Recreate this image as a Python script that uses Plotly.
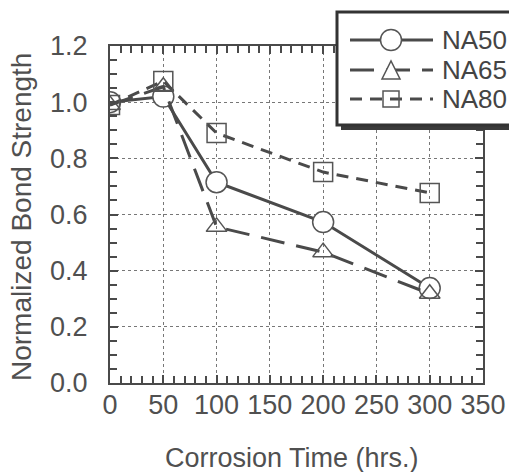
import plotly.graph_objects as go

time_hrs = [0, 50, 100, 200, 300]
na50 = [1.00, 1.02, 0.715, 0.573, 0.338]
na65 = [0.99, 1.055, 0.556, 0.466, 0.318]
na80 = [0.99, 1.075, 0.89, 0.751, 0.677]
series_names = ["NA50", "NA65", "NA80"]
x_ticks = [0, 50, 100, 150, 200, 250, 300, 350]
y_ticks = [0.0, 0.2, 0.4, 0.6, 0.8, 1.0, 1.2]
x_title = "Corrosion Time (hrs.)"
y_title = "Normalized Bond Strength"

W, H = 509, 472
L, R, T, B = 110, 26, 46, 89
PW, PH = W - L - R, H - T - B

def px_x(p):
    return (p - L) / PW

def px_y(p):
    return (H - B - p) / PH

LINE = "#4a4a4a"
MK = "#555555"
TXT = "#505050"
FONT = "Liberation Sans, Arial, sans-serif"

fig = go.Figure()
fig.add_trace(go.Scatter(
    x=time_hrs, y=na50, name=series_names[0], mode="lines+markers",
    line=dict(color=LINE, width=3),
    marker=dict(symbol="circle", size=21, color="white", line=dict(color=MK, width=1.5)),
    showlegend=False))
fig.add_trace(go.Scatter(
    x=time_hrs, y=na65, name=series_names[1], mode="lines+markers",
    line=dict(color=LINE, width=3, dash="24px,12px"),
    marker=dict(symbol="triangle-up-open", size=18, color=MK, line=dict(color=MK, width=1.5)),
    showlegend=False))
fig.add_trace(go.Scatter(
    x=time_hrs, y=na80, name=series_names[2], mode="lines+markers",
    line=dict(color=LINE, width=3, dash="12px,8px"),
    marker=dict(symbol="square-open", size=19, color=MK, line=dict(color=MK, width=1.5)),
    showlegend=False))

axis_common = dict(
    showline=True, linecolor="#4a4a4a", linewidth=2, mirror="allticks",
    ticks="inside", ticklen=8, tickwidth=1.5, tickcolor="#4a4a4a",
    showgrid=True, gridcolor="#777", gridwidth=1, griddash="dot",
    zeroline=False, tickfont=dict(family=FONT, size=27, color=TXT),
    minor=dict(ticks="inside", ticklen=7, tickwidth=1.5, tickcolor="#4a4a4a", showgrid=False),
)

fig.update_xaxes(range=[0, 350], tickvals=x_ticks, **axis_common)
fig.update_xaxes(minor_dtick=10, ticklabelstandoff=-3)
fig.update_yaxes(range=[0, 1.2], tickvals=y_ticks, tickformat=".1f", **axis_common)
fig.update_yaxes(minor_dtick=0.05, ticklabelstandoff=15)

# manual legend box
shapes = []
bx0, by0, bx1, by1 = 337, 12, 530, 125
shapes.append(dict(type="rect", xref="paper", yref="paper", layer="above",
                   x0=px_x(bx0 + 4), x1=px_x(bx1 + 4), y0=px_y(by1 + 5), y1=px_y(by0 + 4),
                   fillcolor="#3a3a3a", line=dict(width=0)))
shapes.append(dict(type="rect", xref="paper", yref="paper", layer="above",
                   x0=px_x(bx0), x1=px_x(bx1), y0=px_y(by1), y1=px_y(by0),
                   fillcolor="white", line=dict(color="#333", width=3)))
rows_y = [40, 70, 99]
dashes = ["solid", "24px,12px", "12px,8px"]
for ry, d in zip(rows_y, dashes):
    shapes.append(dict(type="line", xref="paper", yref="paper", layer="above",
                       x0=px_x(350), x1=px_x(433), y0=px_y(ry), y1=px_y(ry),
                       line=dict(color=LINE, width=3, dash=d)))
cx = 391
shapes.append(dict(type="circle", xref="paper", yref="paper", layer="above",
                   x0=px_x(cx - 10.5), x1=px_x(cx + 10.5), y0=px_y(rows_y[0] + 10.5), y1=px_y(rows_y[0] - 10.5),
                   fillcolor="white", line=dict(color=MK, width=1.5)))
ty = rows_y[1]
shapes.append(dict(type="path", xref="paper", yref="paper", layer="above",
                   path="M {a},{b} L {c},{d} L {e},{f} Z".format(
                       a=px_x(cx - 9), b=px_y(ty + 9), c=px_x(cx + 9), d=px_y(ty + 9), e=px_x(cx), f=px_y(ty - 9)),
                   fillcolor="white", line=dict(color=MK, width=1.5)))
sy = rows_y[2]
shapes.append(dict(type="rect", xref="paper", yref="paper", layer="above",
                   x0=px_x(cx - 8), x1=px_x(cx + 8), y0=px_y(sy + 8), y1=px_y(sy - 8),
                   fillcolor="rgba(0,0,0,0)", line=dict(color=MK, width=1.5)))
annotations = []
for ry, name in zip(rows_y, series_names):
    annotations.append(dict(text=name, xref="paper", yref="paper", x=px_x(440), y=px_y(ry),
                            xanchor="left", yanchor="middle", showarrow=False,
                            font=dict(family=FONT, size=26, color="#444")))
annotations.append(dict(text=x_title, xref="paper", yref="paper", x=px_x(292), y=px_y(458),
                        xanchor="center", yanchor="middle", showarrow=False,
                        font=dict(family=FONT, size=27, color=TXT)))
annotations.append(dict(text=y_title, xref="paper", yref="paper", x=px_x(21), y=px_y(217),
                        xanchor="center", yanchor="middle", showarrow=False, textangle=-90,
                        font=dict(family=FONT, size=28, color=TXT)))

fig.update_layout(
    width=W, height=H, margin=dict(l=L, r=R, t=T, b=B, autoexpand=False),
    paper_bgcolor="white", plot_bgcolor="white",
    shapes=shapes, annotations=annotations, showlegend=False,
)

fig.write_html("out.html")
